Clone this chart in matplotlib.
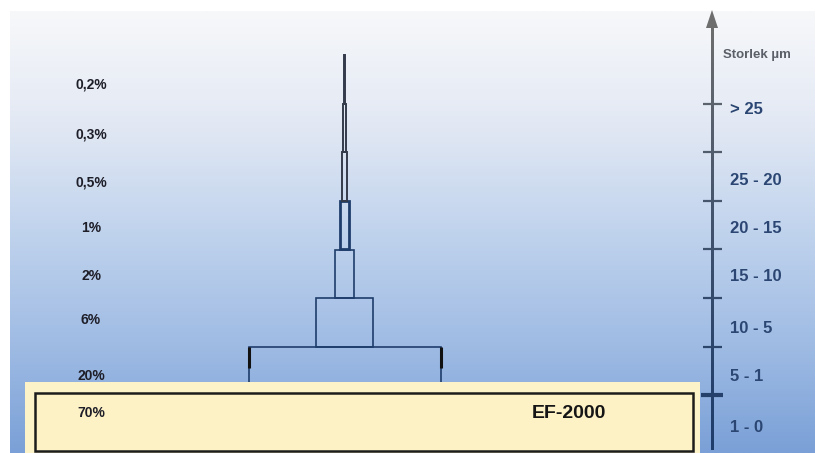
import numpy as np
import matplotlib
matplotlib.use("Agg")
import matplotlib.pyplot as plt
from matplotlib.colors import LinearSegmentedColormap, to_rgb
from matplotlib.patches import Rectangle, Polygon

plt.rcParams['font.family'] = ['Liberation Sans', 'DejaVu Sans']

# share of particles per size class, bottom tier first
percent = [70, 20, 6, 2, 1, 0.5, 0.3, 0.2]
percent_labels = ['70%', '20%', '6%', '2%', '1%', '0,5%', '0,3%', '0,2%']
size_classes = ['1 - 0', '5 - 1', '10 - 5', '15 - 10', '20 - 15', '25 - 20', '> 25']
axis_title = 'Storlek µm'
product = 'EF-2000'

# layout (pixels of the 821x453 picture)
W, H = 821, 453
CX = 344.5          # pyramid centre
PX_PER_PCT = 9.6    # bar width per percent
Y0 = 443.5          # pixel row of tier 0
PX_PER_TIER = 48.5
# vertical placement of the texts, in tier units
pct_label_y = [0.63, 1.40, 2.55, 3.45, 4.44, 5.39, 6.37, 7.40]
size_label_y = [0.32, 1.39, 2.38, 3.45, 4.44, 5.43, 6.88]


def px_x(p):
    return (p - CX) / PX_PER_PCT


def px_y(p):
    return (Y0 - p) / PX_PER_TIER


navy = '#1f3d6b'
gray = '#6e6e6e'

fig = plt.figure(figsize=(W / 100, H / 100), dpi=100)
fig.patch.set_facecolor('white')
ax = fig.add_axes([0, 0, 1, 1])
ax.set_xlim(px_x(0), px_x(W))
ax.set_ylim(px_y(H), px_y(0))
ax.axis('off')

# background gradient
cmap = LinearSegmentedColormap.from_list(
    'bg', ['#f7f8fa', '#e3e9f4', '#c0d3ed', '#a0bce4', '#7aa0d7'])
grad = np.linspace(0, 1, 256).reshape(-1, 1)
ax.imshow(grad, cmap=cmap, aspect='auto', origin='upper', zorder=0,
          extent=(px_x(10), px_x(815), px_y(H), px_y(12)))

# pyramid tiers (the 70% tier is the yellow box)
for tier in range(1, len(percent)):
    pct = percent[tier]
    if pct >= 1:
        lw, ec = (2.0 if pct == 1 else 1.2), navy
    else:
        lw, ec = 1.4, '#343b4a'
    ax.bar(0, 1, width=pct, bottom=tier, align='center', fill=False,
           edgecolor=ec, linewidth=lw, zorder=2)
# dark marks on the corners of the 20% tier
ax.vlines([-percent[1] / 2, percent[1] / 2], 1.56, 2.0, color='#111111',
          lw=2.2, zorder=3)

# yellow base box
ax.add_patch(Rectangle((px_x(25), px_y(H + 5)), px_x(700) - px_x(25),
                       px_y(382) - px_y(H + 5), facecolor='#fdf3c9',
                       edgecolor='none', zorder=3))
ax.add_patch(Rectangle((px_x(35), px_y(451)), px_x(693) - px_x(35),
                       px_y(393) - px_y(451), facecolor='#fdf2c6',
                       edgecolor='#1c1c1c', linewidth=1.8, zorder=4))
ax.text(px_x(569), px_y(413), product, fontsize=14, fontweight='bold',
        color='#151515', ha='center', va='center', zorder=5)

# percentage labels on the left
for lab, y in zip(percent_labels, pct_label_y):
    ax.text(px_x(91), y, lab, fontsize=10, fontweight='bold',
            color='#1e1e28', ha='center', va='center', zorder=5)

# size axis on the right, navy at the bottom fading to gray at the top
y_lo, y_hi = px_y(450), px_y(26)
c0, c1 = np.array(to_rgb(navy)), np.array(to_rgb(gray))


def axis_color(y):
    t = min(1.0, max(0.0, (y - y_lo) / (y_hi - y_lo))) ** 1.3
    return c0 + (c1 - c0) * t


axis_cmap = LinearSegmentedColormap.from_list(
    'axis', [axis_color(v) for v in np.linspace(y_hi, y_lo, 20)])
ax.imshow(grad, cmap=axis_cmap, aspect='auto', origin='upper', zorder=5,
          extent=(px_x(711), px_x(713.2), y_lo, y_hi))
ax.add_patch(Polygon([(px_x(706), px_y(28)), (px_x(712), px_y(10)),
                      (px_x(718), px_y(28))], closed=True,
                     facecolor=gray, edgecolor='none', zorder=5))

for b in range(1, len(size_classes) + 1):
    lw = 3.0 if b == 1 else 1.6
    x0, x1 = (px_x(701), px_x(723)) if b == 1 else (px_x(703), px_x(722))
    ax.plot([x0, x1], [b, b], color=axis_color(b), lw=lw,
            solid_capstyle='butt', zorder=5)

for lab, y in zip(size_classes, size_label_y):
    ax.text(px_x(730), y, lab, fontsize=12, fontweight='bold',
            color='#2b4672', ha='left', va='center', zorder=5)
ax.text(px_x(757), px_y(55), axis_title, fontsize=9.5, fontweight='bold',
        color='#5a5f68', ha='center', va='center', zorder=5)

fig.savefig('out.png', dpi=100, facecolor=fig.get_facecolor())
